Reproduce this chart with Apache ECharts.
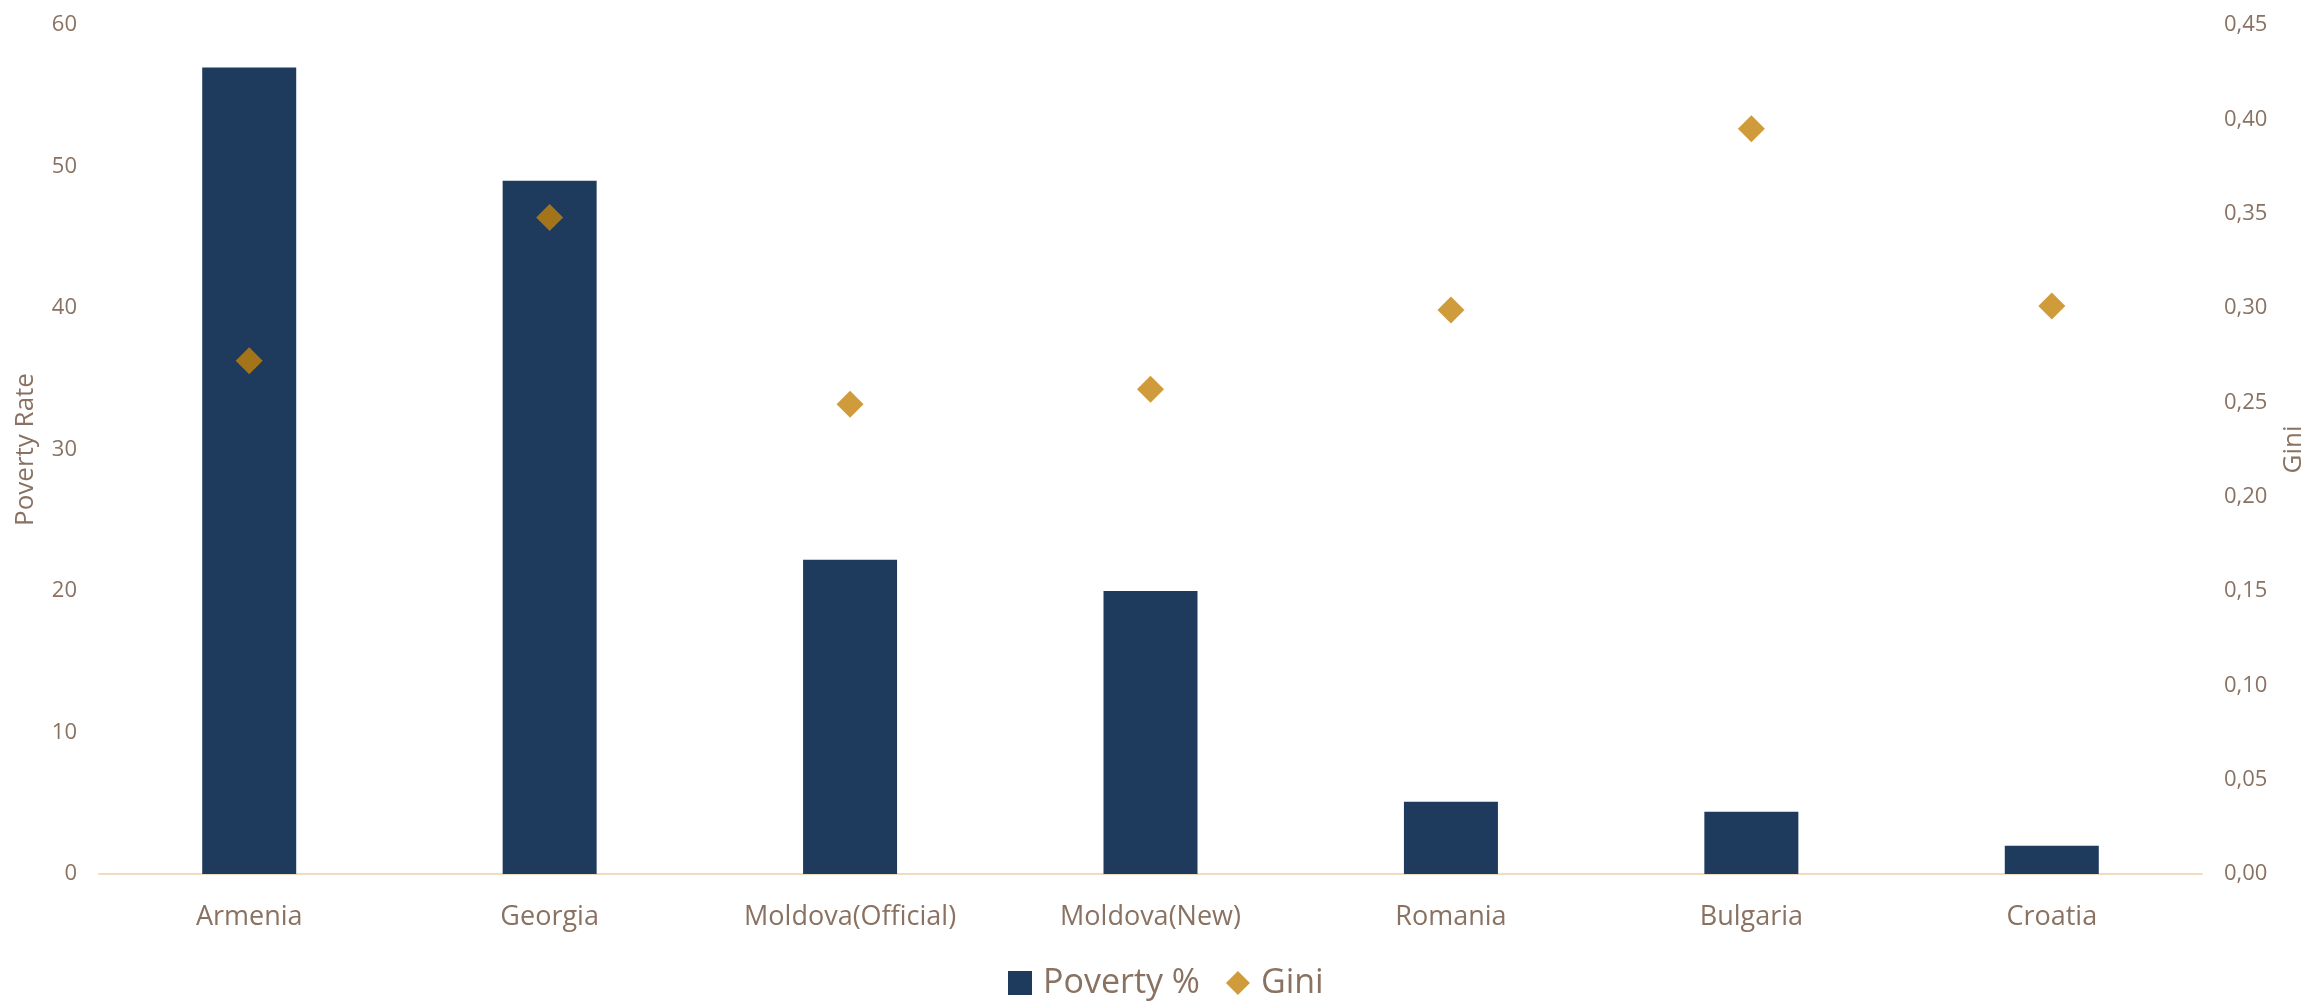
<!DOCTYPE html>
<html>
<head>
<meta charset="utf-8">
<script src="https://cdn.jsdelivr.net/npm/echarts@6/dist/echarts.min.js"></script>
<style>
html,body{margin:0;padding:0;background:#fff;}
#chart{width:2315px;height:1001px;}
</style>
</head>
<body>
<div id="chart"></div>
<script>
const categories = ['Armenia', 'Georgia', 'Moldova(Official)', 'Moldova(New)', 'Romania', 'Bulgaria', 'Croatia'];
const povertyValues = [57.0, 49.0, 22.2, 20.0, 5.1, 4.4, 2.0];
const giniValues = [0.272, 0.348, 0.249, 0.257, 0.299, 0.395, 0.301];
const povertyTicks = { min: 0, max: 60, interval: 10 };
const giniTicks = { min: 0, max: 0.45, interval: 0.05 };

const textColor = '#8a7262';
const font = 'Open Sans';

const chart = echarts.init(document.getElementById('chart'), null, { renderer: 'canvas' });
chart.setOption({
  backgroundColor: '#ffffff',
  animation: false,
  textStyle: { fontFamily: font, color: textColor },
  grid: { left: 99, right: 107, top: 25, bottom: 127, containLabel: false },
  legend: {
    data: [
      { name: 'Poverty %', icon: 'rect' },
      { name: 'Gini', icon: 'diamond' }
    ],
    left: 1003,
    top: 961,
    itemWidth: 24,
    itemHeight: 24,
    itemGap: 26,
    textStyle: { fontFamily: font, fontSize: 34, color: textColor, padding: [0, 0, 0, 6] }
  },
  xAxis: {
    type: 'category',
    data: categories,
    axisLine: { show: true, lineStyle: { color: '#f0dcc0', width: 2 } },
    axisTick: { show: false },
    axisLabel: { fontFamily: font, fontSize: 27, color: textColor, margin: 30 },
    splitLine: { show: false }
  },
  yAxis: [
    {
      type: 'value',
      min: povertyTicks.min, max: povertyTicks.max, interval: povertyTicks.interval,
      name: 'Poverty Rate',
      nameLocation: 'middle',
      nameGap: 60,
      nameTextStyle: { fontFamily: font, fontSize: 26, color: textColor },
      axisLine: { show: false },
      axisTick: { show: false },
      splitLine: { show: false },
      axisLabel: { fontFamily: font, fontSize: 22, color: textColor, margin: 22 }
    },
    {
      type: 'value',
      position: 'right',
      min: giniTicks.min, max: giniTicks.max, interval: giniTicks.interval,
      name: 'Gini',
      nameLocation: 'middle',
      nameGap: 79,
      nameTextStyle: { fontFamily: font, fontSize: 26, color: textColor },
      axisLine: { show: false },
      axisTick: { show: false },
      splitLine: { show: false },
      axisLabel: {
        fontFamily: font, fontSize: 22, color: textColor, margin: 22,
        formatter: v => v.toFixed(2).replace('.', ',')
      }
    }
  ],
  series: [
    {
      name: 'Poverty %',
      type: 'bar',
      data: povertyValues,
      yAxisIndex: 0,
      barWidth: 94,
      itemStyle: { color: '#1e3a5c' }
    },
    {
      name: 'Gini',
      type: 'scatter',
      data: giniValues,
      yAxisIndex: 1,
      symbol: 'diamond',
      symbolSize: [27, 27],
      itemStyle: { color: '#c4830a' }
    }
  ]
});
</script>
</body>
</html>
